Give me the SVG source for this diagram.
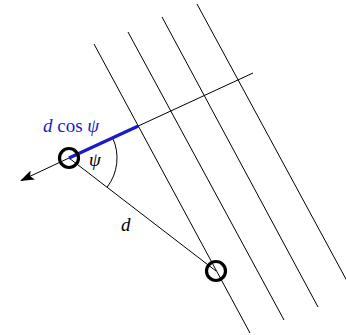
<svg xmlns="http://www.w3.org/2000/svg" width="346" height="335" viewBox="0 0 346 335">
<defs>
<style>
.thin{stroke:#000;stroke-width:1;fill:none}
.src{stroke:#000;stroke-width:3.2;fill:none}
.lbl{font-family:"Liberation Serif","DejaVu Serif",serif;font-size:19px}
.it{font-style:italic}
</style>
<marker id="ah" viewBox="0 0 14 10" refX="13" refY="5" markerWidth="14" markerHeight="10" markerUnits="userSpaceOnUse" orient="auto">
<path d="M0,0 L14,5 L0,10 L3,5 Z" fill="#000"/>
</marker>
</defs>
<g id="connectors">
<line class="thin" x1="94" y1="44" x2="250" y2="333"/>
<line class="thin" x1="128" y1="32" x2="284" y2="320"/>
<line class="thin" x1="162" y1="17" x2="318" y2="307"/>
<line class="thin" x1="197" y1="4" x2="347" y2="281"/>
<line class="thin" x1="69" y1="158" x2="253" y2="73"/>
<line class="thin" x1="69" y1="158" x2="21" y2="180.5" marker-end="url(#ah)"/>
<line class="thin" x1="69" y1="158" x2="216" y2="271"/>
<path class="thin" d="M112.6,137.9 A48,48 0 0 1 107.1,187.2"/>
<line x1="69" y1="158" x2="138.3" y2="126" stroke="#1a1acc" stroke-width="3.2"/>
</g>
<g id="source1"><circle class="src" cx="69" cy="158" r="9.5"/></g>
<g id="source2"><circle class="src" cx="216" cy="271" r="9.5"/></g>
<g id="label-dcos"><text class="lbl" x="43" y="132" fill="#1a1acc"><tspan class="it">d</tspan> cos <tspan class="it">ψ</tspan></text></g>
<g id="label-psi"><text class="lbl it" x="89" y="166">ψ</text></g>
<g id="label-d"><text class="lbl it" x="121" y="231">d</text></g>
</svg>
